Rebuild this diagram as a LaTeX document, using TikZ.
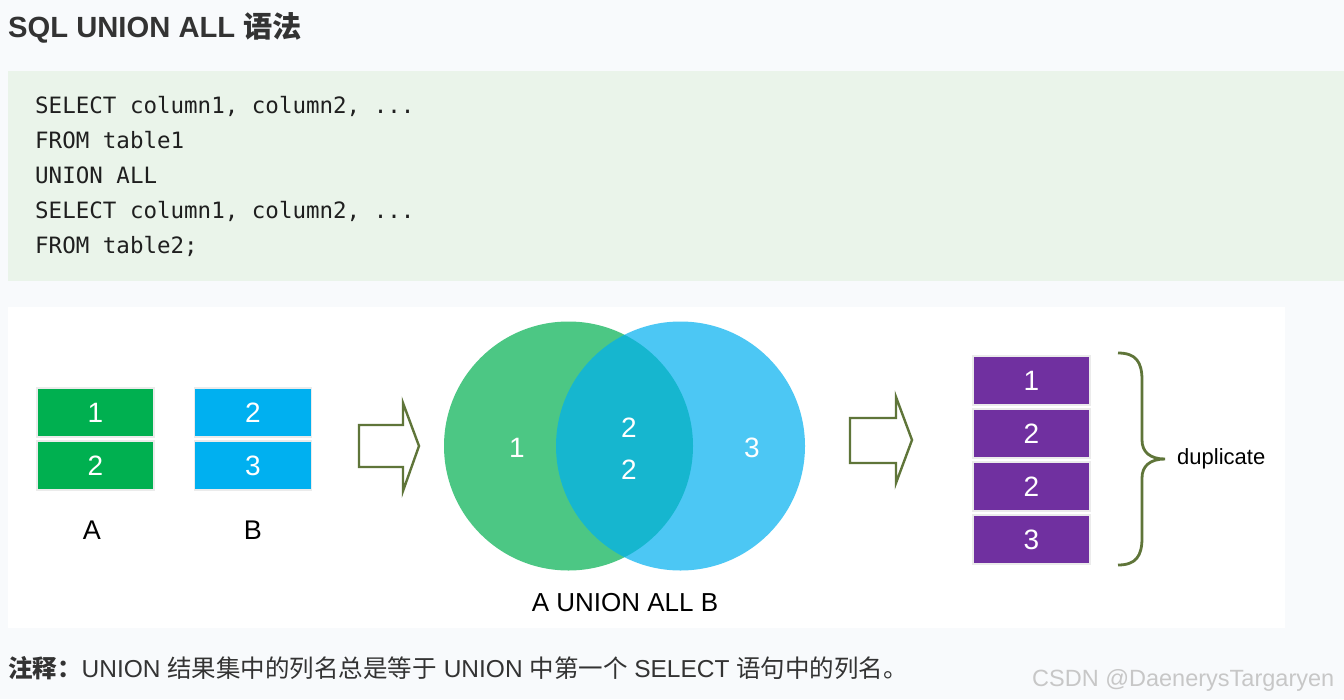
\documentclass[tikz,border=0pt]{standalone}
\usepackage{fontspec}
\setmainfont{Liberation Sans}
\setmonofont{DejaVu Sans Mono}
\newfontfamily\cjk{Noto Sans CJK SC}
\usepackage{tikz}
\usetikzlibrary{positioning}

\definecolor{pagebg}{HTML}{F8FAFC}
\definecolor{codebg}{HTML}{EAF4EA}
\definecolor{inkgray}{HTML}{333333}
\definecolor{tblgreen}{HTML}{00B050}
\definecolor{tblblue}{HTML}{00B0F0}
\definecolor{tblpurple}{HTML}{7030A0}
\definecolor{arrowolive}{HTML}{5F7539}

\begin{document}
\begin{tikzpicture}[
    x=1pt,y=-1pt,
    node distance=2.5pt,
    cell/.style={draw=black!8,line width=1.5pt,minimum width=117,minimum height=49,
                 inner sep=0,text=white,font=\fontsize{28}{28}\selectfont},
    codeline/.style={anchor=base west,inner sep=0,text=black!88,
                     font=\ttfamily\fontsize{22.5}{26}\selectfont},
    lbl/.style={inner sep=0,font=\fontsize{27}{27}\selectfont},
    vennset/.style={circle,fill opacity=0.7,minimum size=249,inner sep=0},
    vennnum/.style={inner sep=0,text=white,font=\fontsize{28}{28}\selectfont},
    fatarrow/.style={draw=arrowolive,line width=2.4pt,fill=white,line join=miter}
  ]
  \useasboundingbox (0,0) rectangle (1344,699);
  \fill[pagebg] (0,0) rectangle (1344,699);
  \fill[codebg] (8,71) rectangle (1344,281);
  \fill[white] (8,307) rectangle (1285,628);

  \node[anchor=base west,inner sep=0,text=inkgray,
        font=\bfseries\fontsize{29.2}{29}\selectfont] (title) at (8,37)
        {SQL UNION ALL {\cjk 语法}};

  % query text
  \node[codeline] (sel1) at (35,113) {SELECT column1, column2, ...};
  \node[codeline] (from1) at (35,148) {FROM table1};
  \node[codeline] (unall) at (35,183) {UNION ALL};
  \node[codeline] (sel2) at (35,218) {SELECT column1, column2, ...};
  \node[codeline] (from2) at (35,253) {FROM table2;};

  % the two input tables
  \node[cell,fill=tblgreen] (a1) at (95.5,412.5) {1};
  \node[cell,fill=tblgreen,below=of a1] (a2) {2};
  \node[cell,fill=tblblue] (b1) at (253,412.5) {2};
  \node[cell,fill=tblblue,below=of b1] (b2) {3};
  \node[lbl] (lblA) at (92,530) {A};
  \node[lbl] (lblB) at (253,530) {B};

  \draw[fatarrow] (359,425) -- (403,425) -- (403,403) -- (419,446)
        -- (403,491) -- (403,467) -- (359,467) -- cycle;

  % venn
  \node[vennset,fill=tblgreen] (setA) at (568.5,446) {};
  \node[vennset,fill=tblblue] (setB) at (680.5,446) {};
  \node[vennnum] (onlyA) at (517,448) {1};
  \node[vennnum] (both1) at (629,428) {2};
  \node[vennnum] (both2) at (629,470) {2};
  \node[vennnum] (onlyB) at (752,448) {3};
  \node[inner sep=0,font=\fontsize{26}{26}\selectfont] (venncap) at (625,603)
        {A UNION ALL B};

  \draw[fatarrow] (850,418) -- (896,418) -- (896,397) -- (912,440)
        -- (896,483) -- (896,463) -- (850,463) -- cycle;

  % result
  \node[cell,fill=tblpurple] (r1) at (1031.5,380.5) {1};
  \node[cell,fill=tblpurple,below=of r1] (r2) {2};
  \node[cell,fill=tblpurple,below=of r2] (r3) {2};
  \node[cell,fill=tblpurple,below=of r3] (r4) {3};
  \node[anchor=west,inner sep=0,font=\fontsize{22}{22}\selectfont] (dup) at (1177,459)
        {duplicate};
  \draw[arrowolive,line width=2.8pt]
    (1118,353) .. controls (1136,353) and (1142,362) .. (1142,380) -- (1142,440)
    .. controls (1142,452) and (1150,459) .. (1165,459)
    .. controls (1150,459) and (1142,466) .. (1142,478) -- (1142,538)
    .. controls (1142,556) and (1136,565) .. (1118,565);

  \node[anchor=base west,inner sep=0,text=inkgray,font=\fontsize{24.5}{24}\selectfont]
        (note) at (8,677)
        {{\bfseries\cjk 注释：}UNION {\cjk 结果集中的列名总是等于} UNION
         {\cjk 中第一个} SELECT {\cjk 语句中的列名。}};
  \node[anchor=base west,inner sep=0,text=black!22,font=\fontsize{23.5}{24}\selectfont]
        (mark) at (1032,686) {CSDN @DaenerysTargaryen};
\end{tikzpicture}
\end{document}
